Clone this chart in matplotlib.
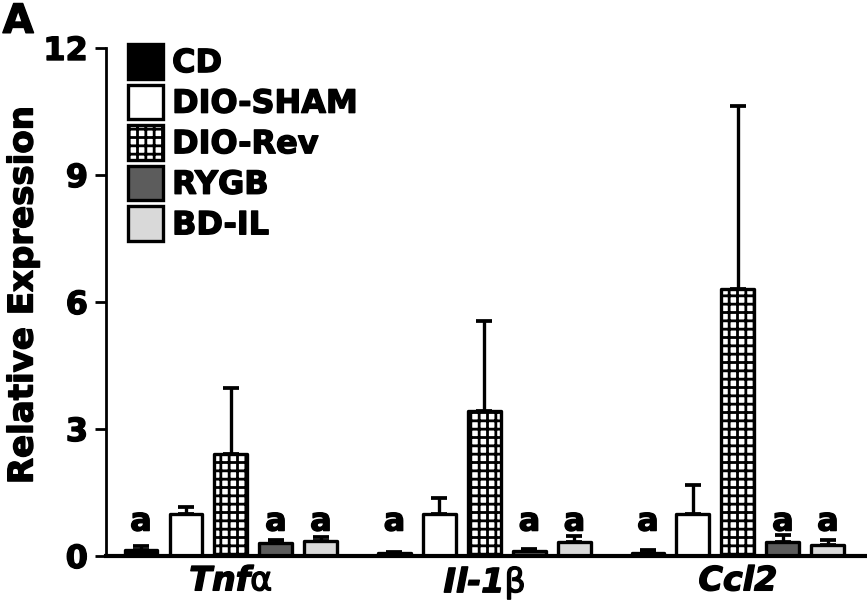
import matplotlib
matplotlib.use('Agg')
import matplotlib.pyplot as plt
import matplotlib.patheffects as pe
from matplotlib.patches import Patch
import numpy as np

plt.rcParams['font.family'] = 'DejaVu Sans'
plt.rcParams['font.weight'] = 'bold'
plt.rcParams['mathtext.fontset'] = 'custom'
plt.rcParams['mathtext.rm'] = 'DejaVu Sans:normal'
plt.rcParams['hatch.linewidth'] = 2.0

genes = [r'Tnf$\mathrm{\alpha}$', r'Il-1$\mathrm{\beta}$', 'Ccl2']
groups = ['CD', 'DIO-SHAM', 'DIO-Rev', 'RYGB', 'BD-IL']

# mean values per group, order = Tnfa, Il-1b, Ccl2
cd = [0.15, 0.08, 0.08]
sham = [1.0, 1.0, 1.0]
dio_rev = [2.4, 3.42, 6.3]
rygb = [0.3, 0.12, 0.33]
bdil = [0.35, 0.33, 0.25]

# upper error (SEM)
cd_err = [0.08, 0.02, 0.05]
sham_err = [0.15, 0.37, 0.68]
dio_rev_err = [1.57, 2.13, 4.33]
rygb_err = [0.07, 0.05, 0.17]
bdil_err = [0.1, 0.15, 0.13]

# which bars carry the "a" letter
letter_a = [True, False, False, True, True]

means = [cd, sham, dio_rev, rygb, bdil]
errs = [cd_err, sham_err, dio_rev_err, rygb_err, bdil_err]
faces = ['black', 'white', 'white', '#5c5c5c', '#d9d9d9']
hatches = [None, None, '++', None, None]

heavy = [pe.withStroke(linewidth=1.0, foreground='black')]

fig = plt.figure(figsize=(8.67, 6.04), dpi=100)
ax = fig.add_axes([106/867, 48/604, 761/867, 508/604])

x = np.arange(len(genes))
step = 0.1775
width = 0.13
for i in range(len(groups)):
    pos = x + (i - 2) * step
    ax.bar(pos, means[i], width, color=faces[i], edgecolor='black', linewidth=2.4,
           hatch=hatches[i], joinstyle='round', zorder=2)
    ax.errorbar(pos, means[i], yerr=[np.zeros(3), errs[i]], fmt='none', ecolor='black',
                elinewidth=2.4, capsize=5.5, capthick=2.7, zorder=1, clip_on=False)
    if letter_a[i]:
        for p in pos:
            ax.text(p, 0.6, 'a', ha='center', va='baseline', fontsize=23, fontweight='bold',
                    path_effects=heavy)

ax.set_xlim(-0.493, 2.509)
ax.set_ylim(0, 12)
ax.set_yticks([0, 3, 6, 9, 12])
ax.set_xticks(x)
ax.set_xticklabels(genes, fontsize=24, fontstyle='italic', fontweight='bold')
ax.tick_params(axis='x', length=0, pad=6)
ax.tick_params(axis='y', length=8, width=2, labelsize=23, pad=5)
for t in ax.get_yticklabels() + ax.get_xticklabels():
    t.set_fontweight('bold')
    t.set_path_effects(heavy)
ax.spines['top'].set_visible(False)
ax.spines['right'].set_visible(False)
ax.spines['left'].set_linewidth(2)
ax.spines['bottom'].set_linewidth(3)

fig.text(23/867, 1 - 295/604, 'Relative Expression', rotation=90, ha='center', va='center',
         fontsize=24.5, fontweight='bold', path_effects=heavy)
fig.text(0.003, 0.997, 'A', ha='left', va='top', fontsize=29, fontweight='bold',
         path_effects=heavy)

handles = [Patch(facecolor=faces[i], edgecolor='black', linewidth=2.4, hatch=hatches[i],
                 joinstyle='round') for i in range(len(groups))]
leg = ax.legend(handles, groups, loc='upper left', bbox_to_anchor=(128/867, 1 - 44/604),
                bbox_transform=fig.transFigure, frameon=False, fontsize=23,
                handlelength=1.1, handleheight=1.3, labelspacing=0.17,
                handletextpad=0.28, borderpad=0, borderaxespad=0)
for t in leg.get_texts():
    t.set_fontweight('bold')
    t.set_path_effects(heavy)

fig.savefig('out.png', dpi=100)
